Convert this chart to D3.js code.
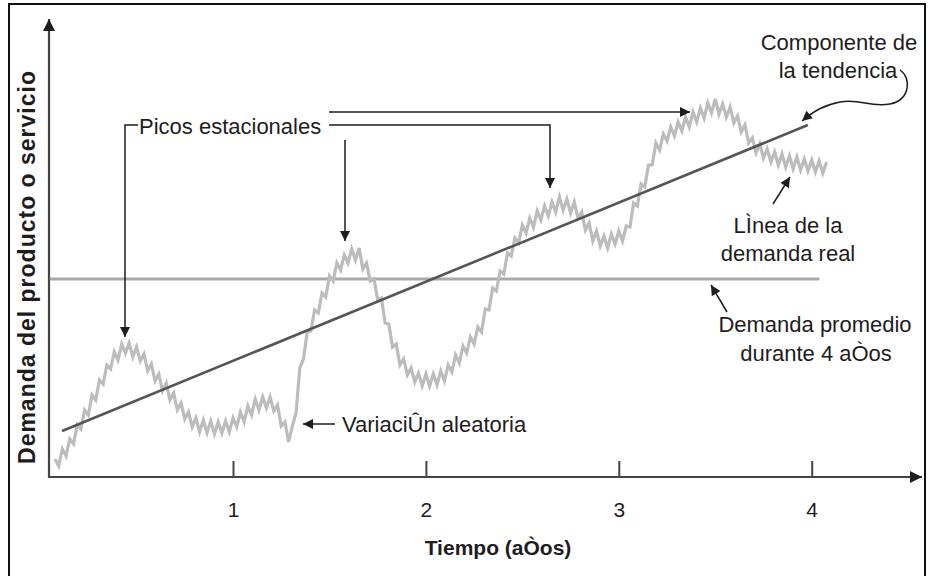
<!DOCTYPE html>
<html>
<head>
<meta charset="utf-8">
<script src="https://cdn.jsdelivr.net/npm/d3@7/dist/d3.min.js"></script>
<style>
  html, body { margin: 0; padding: 0; background: #fff; }
  svg { display: block; }
  text { font-family: "Liberation Sans", Arial, sans-serif; fill: #1e1c1d; }
</style>
</head>
<body>
<script>
// ---------------- data ----------------
const yearTicks = [1, 2, 3, 4];
const xTitle = "Tiempo (aÒos)";
const yTitle = "Demanda del producto o servicio";
const firstWeek = 4;            // weekly demand starts at week 4
const weeklyDemand = [
  18, 11, 28, 21, 38, 33, 52, 48, 67, 62, 82, 77, 97, 93, 112, 108, 125, 117, 133, 124,
  134, 120, 130, 116, 123, 106, 113, 96, 103, 86, 94, 77, 84, 67, 74, 58, 65, 50, 59, 45,
  57, 44, 56, 43, 55, 44, 56, 45, 59, 50, 65, 55, 71, 62, 78, 67, 80, 69, 80, 66,
  72, 51, 55, 35, 51, 64, 109, 118, 145, 146, 167, 164, 184, 180, 201, 196, 214, 207, 222, 214,
  228, 217, 229, 208, 214, 196, 198, 177, 179, 154, 153, 130, 133, 112, 118, 102, 109, 95, 104, 91,
  103, 91, 103, 92, 106, 96, 112, 105, 122, 114, 131, 124, 140, 133, 150, 145, 168, 167, 189, 186,
  206, 203, 224, 221, 239, 234, 252, 244, 259, 250, 266, 257, 271, 261, 275, 265, 280, 267, 278, 264,
  275, 259, 265, 247, 254, 236, 246, 231, 241, 229, 243, 233, 246, 236, 251, 250, 274, 271, 293, 290,
  312, 312, 334, 327, 343, 336, 350, 341, 355, 346, 360, 350, 365, 355, 369, 359, 374, 364, 378, 363,
  373, 360, 370, 354, 361, 345, 352, 334, 339, 324, 333, 319, 328, 315, 325, 312, 323, 310, 321, 308,
  320, 307, 318, 306, 317, 305, 316, 304, 315
];
const trendYears = [0.114, 3.98];
const trendDemand = [46, 352];
const averageDemand = 198;
const averageYears = [0.05, 4.04];

// ---------------- layout ----------------
const W = 928, H = 576;
const svg = d3.select("body").append("svg").attr("width", W).attr("height", H);

const x = d3.scaleLinear().domain([0, 4]).range([40.1, 811.7]);
const y = d3.scaleLinear().domain([0, 450]).range([477, 27]);

const defs = svg.append("defs");
function marker(id, color, w, h) {
  defs.append("marker").attr("id", id)
    .attr("viewBox", "0 0 10 10").attr("refX", 10).attr("refY", 5)
    .attr("markerWidth", w).attr("markerHeight", h).attr("markerUnits", "userSpaceOnUse")
    .attr("orient", "auto")
    .append("path").attr("d", "M0,0 L10,5 L0,10 Z").attr("fill", color);
}
marker("arr", "#1e1c1d", 13, 10);
marker("axarr", "#1e1c1d", 18, 12);

// border frame
svg.append("rect").attr("x", 9).attr("y", 4).attr("width", 916).attr("height", 600)
  .attr("fill", "none").attr("stroke", "#111").attr("stroke-width", 2);

// axes
const xAxis = d3.axisBottom(x).tickValues(yearTicks).tickSize(-16).tickPadding(25)
  .tickFormat(d3.format("d"));
const gx = svg.append("g").attr("transform", `translate(0,${y(0)})`).call(xAxis);
gx.select(".domain").remove();
gx.selectAll(".tick line").attr("stroke", "#444").attr("stroke-width", 2);
gx.selectAll(".tick text").attr("font-size", 21).attr("fill", "#1e1c1d")
  .attr("font-family", "Liberation Sans, Arial, sans-serif");

svg.append("line").attr("x1", 49).attr("x2", 922).attr("y1", y(0)).attr("y2", y(0))
  .attr("stroke", "#444").attr("stroke-width", 2.2).attr("marker-end", "url(#axarr)");
svg.append("line").attr("x1", 49).attr("x2", 49).attr("y1", y(0) + 1).attr("y2", 19)
  .attr("stroke", "#444").attr("stroke-width", 2.2).attr("marker-end", "url(#axarr)");

// axis titles
svg.append("text").attr("x", 498).attr("y", 555).attr("text-anchor", "middle")
  .attr("font-size", 21).attr("font-weight", "bold").text(xTitle);
svg.append("text").attr("transform", "translate(35,267) rotate(-90)")
  .attr("text-anchor", "middle").attr("font-size", 23).attr("font-weight", "bold")
  .attr("letter-spacing", 1).text(yTitle);

// average line
svg.append("line")
  .attr("x1", x(averageYears[0])).attr("x2", x(averageYears[1]))
  .attr("y1", y(averageDemand)).attr("y2", y(averageDemand))
  .attr("stroke", "#a9a9a9").attr("stroke-width", 3);

// actual demand line
const demandPts = weeklyDemand.map((d, i) => [(firstWeek + i) / 52, d]);
svg.append("path").datum(demandPts)
  .attr("d", d3.line().x(d => x(d[0])).y(d => y(d[1])))
  .attr("fill", "none").attr("stroke", "#bcbcbc").attr("stroke-width", 3.2)
  .attr("stroke-linejoin", "miter");

// trend line
svg.append("line")
  .attr("x1", x(trendYears[0])).attr("y1", y(trendDemand[0]))
  .attr("x2", x(trendYears[1])).attr("y2", y(trendDemand[1]))
  .attr("stroke", "#555").attr("stroke-width", 2.6);

// ---------------- annotations ----------------
const ann = svg.append("g");
const lineStyle = s => s.attr("fill", "none").attr("stroke", "#1e1c1d").attr("stroke-width", 1.5);

// Picos estacionales
ann.append("text").attr("x", 139).attr("y", 134).attr("font-size", 22).text("Picos estacionales");
lineStyle(ann.append("path").attr("d", "M138,125 L125,125 L125,337")).attr("marker-end", "url(#arr)");
lineStyle(ann.append("path").attr("d", "M329,125 L550,125 L550,188")).attr("marker-end", "url(#arr)");
lineStyle(ann.append("path").attr("d", "M329,112 L690,112")).attr("marker-end", "url(#arr)");
lineStyle(ann.append("path").attr("d", "M345,140 L345,241")).attr("marker-end", "url(#arr)");

// Componente de la tendencia
ann.append("text").attr("x", 839).attr("y", 50).attr("text-anchor", "middle").attr("font-size", 22).text("Componente de");
ann.append("text").attr("x", 838).attr("y", 78).attr("text-anchor", "middle").attr("font-size", 22).text("la tendencia");
lineStyle(ann.append("path").attr("d", "M900,70 C912,78 910,100 890,104 C870,108 860,98 840,102 C825,105 815,110 802,121"))
  .attr("marker-end", "url(#arr)");

// Línea de la demanda real
ann.append("text").attr("x", 788).attr("y", 233).attr("text-anchor", "middle").attr("font-size", 22).text("LÌnea de la");
ann.append("text").attr("x", 788).attr("y", 261).attr("text-anchor", "middle").attr("font-size", 22).text("demanda real");
lineStyle(ann.append("path").attr("d", "M773,204 L790,177")).attr("marker-end", "url(#arr)");

// Demanda promedio
ann.append("text").attr("x", 815).attr("y", 332).attr("text-anchor", "middle").attr("font-size", 22).text("Demanda promedio");
ann.append("text").attr("x", 816).attr("y", 361).attr("text-anchor", "middle").attr("font-size", 22).text("durante 4 aÒos");
lineStyle(ann.append("path").attr("d", "M727,312 L711,285")).attr("marker-end", "url(#arr)");

// Variación aleatoria
ann.append("text").attr("x", 342).attr("y", 432).attr("font-size", 22).text("VariaciÛn aleatoria");
lineStyle(ann.append("path").attr("d", "M335,424 L303,424")).attr("marker-end", "url(#arr)");
</script>
</body>
</html>
